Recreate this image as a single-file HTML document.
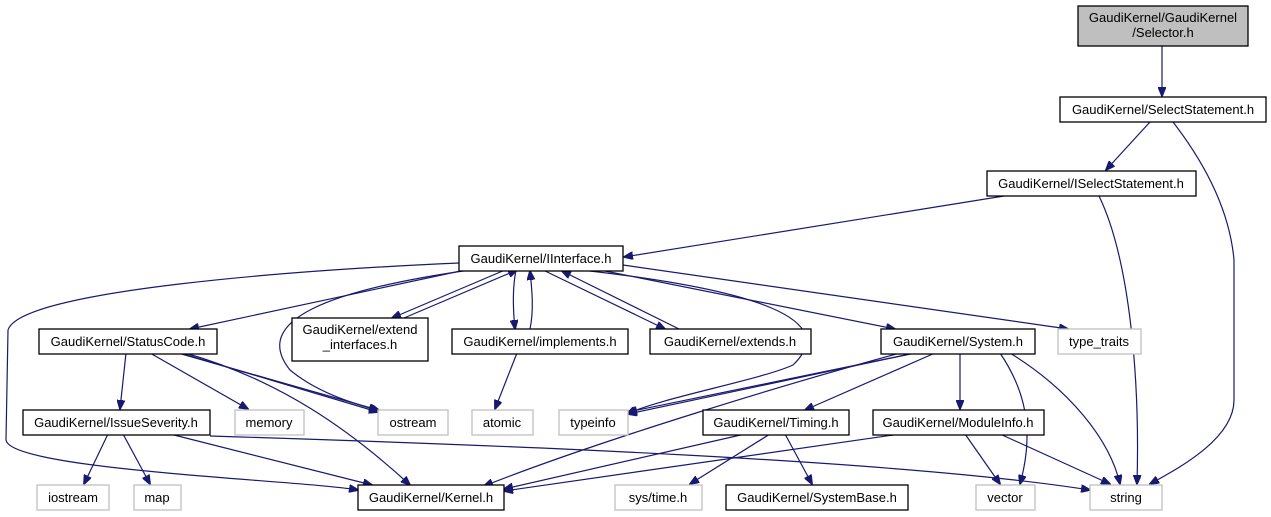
<!DOCTYPE html>
<html><head><meta charset="utf-8"><style>
html,body{margin:0;padding:0;background:#fff;}
svg{display:block;}
text{font-family:"Liberation Sans",sans-serif;font-size:13px;fill:#000;}
.n{fill:#fff;stroke:#000;stroke-width:1.3;}
.g{fill:#fff;stroke:#bfbfbf;stroke-width:1.3;}
.e{fill:none;stroke:#191970;stroke-width:1.2;}
</style></head><body>
<svg width="1271" height="517" viewBox="0 0 1271 517" xmlns="http://www.w3.org/2000/svg">
<defs><marker id="a" markerWidth="10" markerHeight="8" refX="9" refY="4" orient="auto" markerUnits="userSpaceOnUse"><path d="M0,0 L10,4 L0,8 z" fill="#191970" stroke="#191970"/></marker></defs>
<g marker-end="url(#a)">
<path class="e" d="M1162,46 L1162,96"/>
<path class="e" d="M1150,122 L1106,170"/>
<path class="e" d="M1173,122 C1210,170 1230,215 1234,260 L1234,400 C1234,440 1175,470 1150,484"/>
<path class="e" d="M1004,196 L624,257"/>
<path class="e" d="M1099,196 C1130,260 1140,380 1137,484"/>
<path class="e" d="M459,263 C300,270 20,290 8,330 L6,440 C10,470 300,480 358,490"/>
<path class="e" d="M465,270 L190,329"/>
<path class="e" d="M470,270 C330,290 250,320 290,370 C320,395 360,405 380,411"/>
<path class="e" d="M505,270 L392,318"/>
<path class="e" d="M404,318 L517,270"/>
<path class="e" d="M516,270 C512,290 513,310 515,329"/>
<path class="e" d="M530,329 C534,310 532,290 530,271"/>
<path class="e" d="M517,353 L495,409"/>
<path class="e" d="M543,270 L665,329"/>
<path class="e" d="M679,329 L562,271"/>
<path class="e" d="M581,270 C760,290 840,320 793,365 C760,380 660,398 627,414"/>
<path class="e" d="M600,270 L895,329"/>
<path class="e" d="M623,265 L1068,329"/>
<path class="e" d="M126,353 L120,409"/>
<path class="e" d="M150,353 L248,409"/>
<path class="e" d="M178,353 L378,410"/>
<path class="e" d="M180,353 L378,412"/>
<path class="e" d="M185,353 C280,380 350,430 410,485"/>
<path class="e" d="M108,434 L84,484"/>
<path class="e" d="M123,434 L150,484"/>
<path class="e" d="M170,434 L372,485"/>
<path class="e" d="M210,436 C500,445 900,460 1090,490"/>
<path class="e" d="M915,353 L628,414"/>
<path class="e" d="M915,353 L628,412"/>
<path class="e" d="M900,353 C800,380 600,440 484,486"/>
<path class="e" d="M935,353 L805,410"/>
<path class="e" d="M960,353 L960,409"/>
<path class="e" d="M1000,353 C1025,390 1035,430 1020,484"/>
<path class="e" d="M1010,353 C1070,390 1110,440 1120,484"/>
<path class="e" d="M745,434 L504,489"/>
<path class="e" d="M770,434 L690,484"/>
<path class="e" d="M785,434 L812,484"/>
<path class="e" d="M900,434 L504,491"/>
<path class="e" d="M965,434 L1000,484"/>
<path class="e" d="M1000,434 L1110,484"/>
</g>
<rect x="1078" y="6" width="170" height="40" fill="#bfbfbf" stroke="#000" stroke-width="1.3"/>
<text x="1163" y="22" text-anchor="middle">GaudiKernel/GaudiKernel</text>
<text x="1163" y="37" text-anchor="middle">/Selector.h</text>
<rect class="n" x="1060" y="97" width="206" height="25"/><text x="1163" y="114" text-anchor="middle">GaudiKernel/SelectStatement.h</text>
<rect class="n" x="987" y="171" width="209" height="25"/><text x="1091" y="188" text-anchor="middle">GaudiKernel/ISelectStatement.h</text>
<rect class="n" x="459" y="246" width="164" height="25"/><text x="541" y="263" text-anchor="middle">GaudiKernel/IInterface.h</text>
<rect class="n" x="39" y="329" width="178" height="25"/><text x="128" y="346" text-anchor="middle">GaudiKernel/StatusCode.h</text>
<rect class="n" x="292" y="318" width="136" height="43"/><text x="360" y="334" text-anchor="middle">GaudiKernel/extend</text><text x="360" y="349" text-anchor="middle">_interfaces.h</text>
<rect class="n" x="452" y="329" width="176" height="25"/><text x="540" y="346" text-anchor="middle">GaudiKernel/implements.h</text>
<rect class="n" x="650" y="329" width="161" height="25"/><text x="730" y="346" text-anchor="middle">GaudiKernel/extends.h</text>
<rect class="n" x="881" y="329" width="154" height="25"/><text x="958" y="346" text-anchor="middle">GaudiKernel/System.h</text>
<rect class="g" x="1058" y="329" width="83" height="25"/><text x="1099" y="346" text-anchor="middle">type_traits</text>
<rect class="n" x="23" y="410" width="187" height="25"/><text x="116" y="427" text-anchor="middle">GaudiKernel/IssueSeverity.h</text>
<rect class="g" x="235" y="410" width="69" height="25"/><text x="269" y="427" text-anchor="middle">memory</text>
<rect class="g" x="378" y="410" width="70" height="25"/><text x="413" y="427" text-anchor="middle">ostream</text>
<rect class="g" x="472" y="410" width="61" height="25"/><text x="502" y="427" text-anchor="middle">atomic</text>
<rect class="g" x="559" y="410" width="69" height="25"/><text x="593" y="427" text-anchor="middle">typeinfo</text>
<rect class="n" x="703" y="410" width="146" height="25"/><text x="776" y="427" text-anchor="middle">GaudiKernel/Timing.h</text>
<rect class="n" x="873" y="410" width="171" height="25"/><text x="958" y="427" text-anchor="middle">GaudiKernel/ModuleInfo.h</text>
<rect class="g" x="37" y="485" width="72" height="25"/><text x="73" y="502" text-anchor="middle">iostream</text>
<rect class="g" x="134" y="485" width="47" height="25"/><text x="157" y="502" text-anchor="middle">map</text>
<rect class="n" x="358" y="485" width="146" height="25"/><text x="431" y="502" text-anchor="middle">GaudiKernel/Kernel.h</text>
<rect class="g" x="615" y="485" width="87" height="25"/><text x="658" y="502" text-anchor="middle">sys/time.h</text>
<rect class="n" x="726" y="485" width="182" height="25"/><text x="817" y="502" text-anchor="middle">GaudiKernel/SystemBase.h</text>
<rect class="g" x="976" y="485" width="59" height="25"/><text x="1005" y="502" text-anchor="middle">vector</text>
<rect class="g" x="1090" y="485" width="72" height="25"/><text x="1126" y="502" text-anchor="middle">string</text>
</svg>
</body></html>
